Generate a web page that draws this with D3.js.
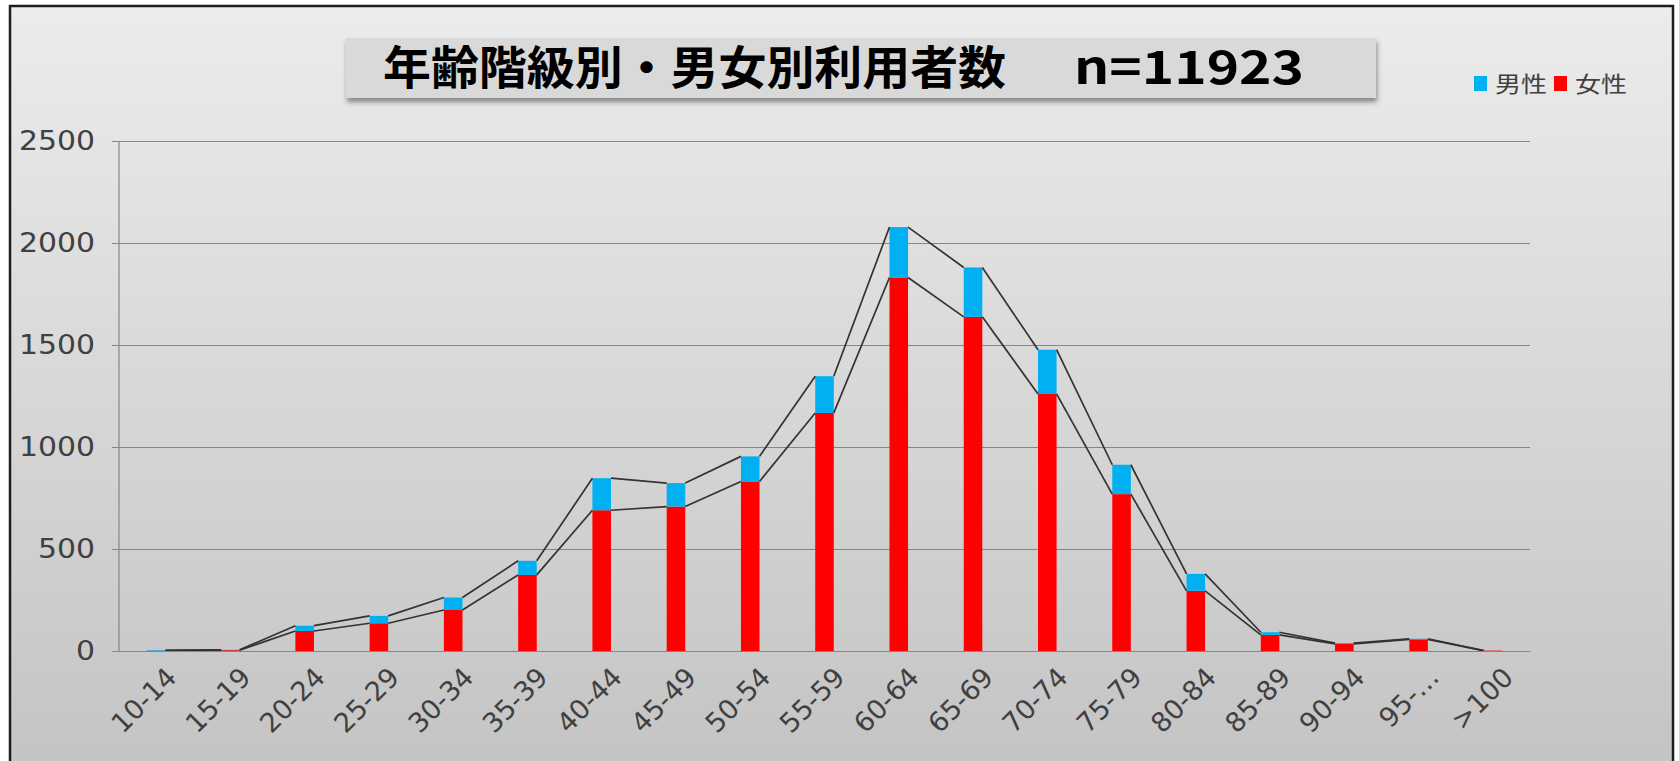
<!DOCTYPE html>
<html>
<head>
<meta charset="utf-8">
<script src="https://cdn.jsdelivr.net/npm/d3@7"></script>
<style>
  html, body { margin: 0; padding: 0; background: #fff; }
  #chart { width: 1679px; height: 761px; }
</style>
</head>
<body>
<div id="chart"></div>
<script>
(function () {
    // age groups (x categories)
    var ageGroups = ["10-14", "15-19", "20-24", "25-29", "30-34", "35-39", "40-44", "45-49", "50-54",
        "55-59", "60-64", "65-69", "70-74", "75-79", "80-84", "85-89", "90-94", "95-…", ">100"];
    // counts
    var female = [1, 4, 98, 136, 201, 373, 690, 708, 831, 1167, 1831, 1638, 1260, 769, 295, 79, 35, 57, 2];
    var male = [3, 2, 26, 36, 61, 69, 157, 115, 123, 180, 247, 242, 217, 144, 83, 13, 4, 3, 0];
    var yTicks = [0, 500, 1000, 1500, 2000, 2500];
    var seriesNames = ["男性", "女性"];
    var titleText = "年齢階級別・男女別利用者数";
    var nText = "n=11923";

    var width = 1679, height = 761;
    var plot = {left: 119, right: 1530, top: 141, bottom: 651};
    var colors = {"女性": "#ff0000", "男性": "#00b0f0"};

    var rows = ageGroups.map(function (g, i) {
        return {group: g, "女性": female[i], "男性": male[i]};
    });
    var stacked = d3.stack().keys(["女性", "男性"])(rows);

    var x = d3.scaleBand()
        .domain(ageGroups)
        .range([plot.left, plot.right])
        .paddingInner(0.75)
        .paddingOuter(0.375);

    var y = d3.scaleLinear()
        .domain([0, 2500])
        .range([plot.bottom, plot.top]);

    var svg = d3.select("#chart")
        .append("svg")
        .attr("width", width)
        .attr("height", height);

    var defs = svg.append("defs");
    var bg = defs.append("linearGradient")
        .attr("id", "bg")
        .attr("x1", 0).attr("y1", 0).attr("x2", 0).attr("y2", 1);
    bg.append("stop").attr("offset", "0%").attr("stop-color", "#ececec");
    bg.append("stop").attr("offset", "100%").attr("stop-color", "#c3c3c3");

    var shadow = defs.append("filter")
        .attr("id", "shadow")
        .attr("x", "-5%").attr("y", "-30%").attr("width", "110%").attr("height", "170%");
    shadow.append("feDropShadow")
        .attr("dx", 1).attr("dy", 4).attr("stdDeviation", 2.5)
        .attr("flood-color", "#444").attr("flood-opacity", 0.6);

    // outer frame
    svg.append("rect")
        .attr("x", 10).attr("y", 6)
        .attr("width", 1663).attr("height", 780)
        .attr("fill", "url(#bg)")
        .attr("stroke", "#1e1e1e")
        .attr("stroke-width", 2.5);

    // title box
    svg.append("rect")
        .attr("x", 346).attr("y", 38)
        .attr("width", 1030).attr("height", 60)
        .attr("fill", "#d9d9d9")
        .attr("filter", "url(#shadow)");

    var title = svg.append("text")
        .attr("y", 84)
        .attr("font-family", "'Noto Sans CJK JP', sans-serif")
        .attr("font-weight", "bold")
        .attr("font-size", 46)
        .attr("fill", "#000");
    title.append("tspan")
        .attr("x", 383)
        .attr("textLength", 623)
        .attr("lengthAdjust", "spacingAndGlyphs")
        .text(titleText);
    title.append("tspan")
        .attr("x", 1074)
        .attr("textLength", 230)
        .attr("lengthAdjust", "spacingAndGlyphs")
        .text(nText);

    // y axis with gridlines
    var yAxis = svg.append("g")
        .attr("transform", "translate(" + plot.left + ",0)")
        .call(d3.axisLeft(y)
            .tickValues(yTicks)
            .tickFormat(d3.format("d"))
            .tickSize(-(plot.right - plot.left))
            .tickPadding(24));
    yAxis.select(".domain").remove();
    yAxis.selectAll(".tick line")
        .attr("x1", -7)
        .attr("stroke", "#868686")
        .attr("stroke-width", 1.2);
    yAxis.selectAll(".tick text")
        .attr("font-family", "'DejaVu Sans', sans-serif")
        .attr("font-size", 26)
        .attr("fill", "#404040")
        .attr("textLength", d => String(d).length * 19)
        .attr("lengthAdjust", "spacingAndGlyphs");

    svg.append("line")
        .attr("x1", plot.left).attr("x2", plot.left)
        .attr("y1", plot.top).attr("y2", plot.bottom)
        .attr("stroke", "#868686")
        .attr("stroke-width", 1.2);

    // bars
    svg.append("g")
        .selectAll("g")
        .data(stacked)
        .join("g")
        .attr("fill", d => colors[d.key])
        .selectAll("rect")
        .data(d => d)
        .join("rect")
        .attr("x", d => x(d.data.group))
        .attr("y", d => y(d[1]))
        .attr("width", x.bandwidth())
        .attr("height", d => y(d[0]) - y(d[1]));

    // series lines between the tops of neighbouring bars
    var segs = [];
    stacked.forEach(function (layer) {
        for (var i = 0; i < layer.length - 1; i++) {
            segs.push({
                x1: x(layer[i].data.group) + x.bandwidth(),
                y1: y(layer[i][1]),
                x2: x(layer[i + 1].data.group),
                y2: y(layer[i + 1][1])
            });
        }
    });
    svg.append("g")
        .selectAll("line")
        .data(segs)
        .join("line")
        .attr("x1", d => d.x1).attr("y1", d => d.y1)
        .attr("x2", d => d.x2).attr("y2", d => d.y2)
        .attr("stroke", "#333")
        .attr("stroke-width", 1.7);

    // x axis
    var xAxis = svg.append("g")
        .attr("transform", "translate(0," + plot.bottom + ")")
        .call(d3.axisBottom(x).tickSize(0).tickSizeOuter(0));
    xAxis.select(".domain")
        .attr("stroke", "#868686")
        .attr("stroke-width", 1.2);
    xAxis.selectAll(".tick text")
        .attr("font-family", "'DejaVu Sans', sans-serif")
        .attr("font-size", 27)
        .attr("fill", "#404040")
        .attr("text-anchor", "end")
        .attr("x", 0).attr("y", 0).attr("dy", 0)
        .attr("transform", "translate(22,28) rotate(-45)");

    // legend
    var legendX = [1474, 1554];
    var legend = svg.append("g")
        .selectAll("g")
        .data(seriesNames)
        .join("g")
        .attr("transform", (d, i) => "translate(" + legendX[i] + ",0)");
    legend.append("rect")
        .attr("x", 0).attr("y", 76)
        .attr("width", 13).attr("height", 15)
        .attr("fill", d => colors[d]);
    legend.append("text")
        .attr("x", 21).attr("y", 92)
        .attr("font-family", "'Noto Sans CJK JP', sans-serif")
        .attr("font-size", 22)
        .attr("fill", "#404040")
        .attr("textLength", 52)
        .attr("lengthAdjust", "spacingAndGlyphs")
        .text(d => d);
}());
</script>
</body>
</html>
